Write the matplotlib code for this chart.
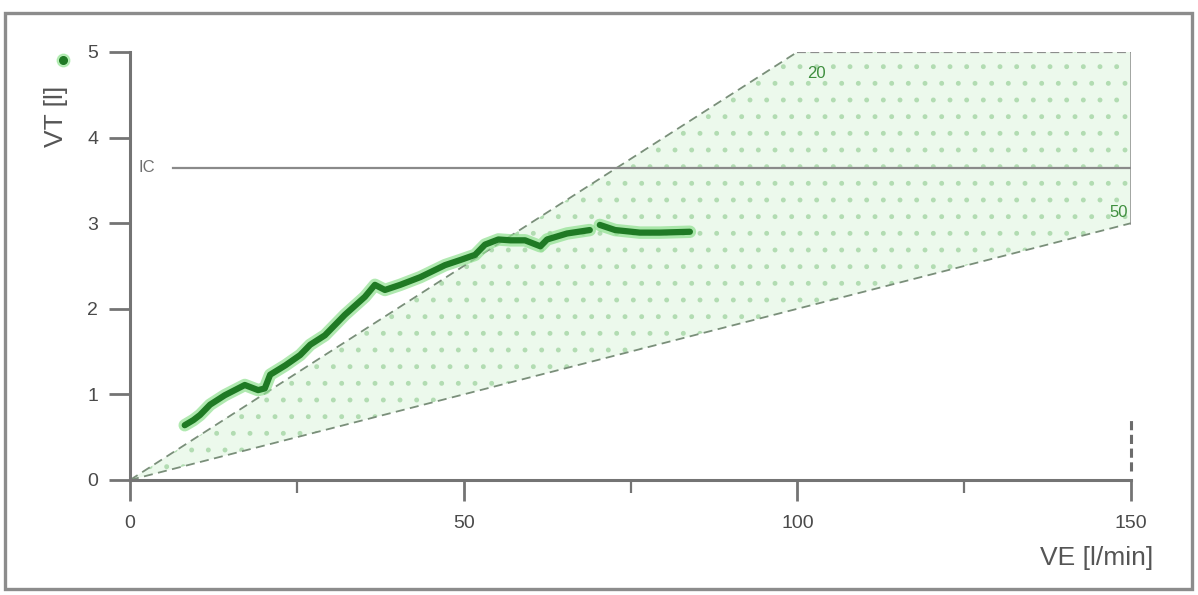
import matplotlib
matplotlib.use("Agg")
import matplotlib.pyplot as plt
from matplotlib.patches import Polygon, Rectangle

plt.rcParams['font.family'] = ['Liberation Sans', 'DejaVu Sans']
plt.rcParams['hatch.linewidth'] = 1.1

# Breath-by-breath tidal volume against minute ventilation
ve = [8.2, 9.5, 10.5, 12.0, 14.2, 17.2, 19.2, 20.2, 21.0, 23.3, 25.5, 27.0, 29.2,
      32.2, 35.2, 36.7, 38.2, 40.5, 43.5, 47.2, 49.5, 51.7, 53.2, 55.2, 57.0,
      59.2, 61.5, 62.5, 65.5, 68.9]
vt = [0.64, 0.70, 0.76, 0.88, 0.99, 1.11, 1.05, 1.07, 1.23, 1.34, 1.46, 1.58, 1.69,
      1.93, 2.14, 2.28, 2.22, 2.28, 2.37, 2.51, 2.57, 2.63, 2.75, 2.81, 2.80,
      2.80, 2.73, 2.81, 2.88, 2.92]
ve_b = [70.4, 72.7, 76.4, 79.4, 83.9]
vt_b = [2.98, 2.92, 2.89, 2.89, 2.90]

# Breathing-frequency reference lines (VT = VE / f) and inspiratory capacity
freq_labels = ['20', '50']
freq_values = [20, 50]
ic_value = 3.65
ve_max = 150
vt_max = 5

xticks = [0, 50, 100, 150]
xminor = [25, 75, 125]
yticks = [0, 1, 2, 3, 4, 5]

W, H = 1198, 595
fig = plt.figure(figsize=(W / 100, H / 100), dpi=100)
fig.patch.set_facecolor('white')
fig.patches.append(Rectangle((5 / W, 1 - 589 / H), 1187 / W, 576 / H,
                             transform=fig.transFigure, fill=False,
                             edgecolor='#8c8c8c', lw=2.4, zorder=0))

ax = fig.add_axes([130 / W, (H - 480) / H, (1131 - 130) / W, (480 - 52) / H])
ax.set_xlim(0, ve_max)
ax.set_ylim(0, vt_max)

gray = '#747474'
f_hi, f_lo = freq_values
# shaded zone between the two frequency lines, capped at VT max and VE max
x_hi_end = vt_max * f_hi
zone = [(0, 0), (x_hi_end, vt_max), (ve_max, vt_max), (ve_max, ve_max / f_lo)]
ax.add_patch(Polygon(zone, closed=True, facecolor='#ecf9ec', edgecolor='none', zorder=1))
ax.add_patch(Polygon(zone, closed=True, facecolor='none', edgecolor='#b2dcb2',
                     lw=0, hatch='.', zorder=1))

ax.plot([0, x_hi_end], [0, vt_max], ls=(0, (5, 3)), color='#7a8f7a', lw=1.3, zorder=2)
ax.plot([0, ve_max], [0, ve_max / f_lo], ls=(0, (5, 3)), color='#7a8f7a', lw=1.3, zorder=2)
ax.plot([x_hi_end, ve_max], [vt_max, vt_max], ls=(0, (4, 2)), color='#8c8c8c', lw=1.6, zorder=2)
ax.plot([ve_max, ve_max], [ve_max / f_lo, vt_max], color='#8c8c8c', lw=1.8, zorder=2)
ax.plot([ve_max, ve_max], [0.1, 0.75], ls=(0, (3, 1.5)), color='#6c6c6c', lw=2.2,
        zorder=2, clip_on=False)

ax.text(x_hi_end + 1.5, vt_max - 0.25, freq_labels[0], color='#3f8f3f', fontsize=12,
        ha='left', va='center', zorder=4)
ax.text(ve_max - 0.5, ve_max / f_lo + 0.12, freq_labels[1], color='#3f8f3f', fontsize=12,
        ha='right', va='center', zorder=4)

# inspiratory capacity
ax.plot([6.5, ve_max], [ic_value, ic_value], color='#8a8a8a', lw=1.6, zorder=2)
ax.text(1.2, ic_value, 'IC', color='#707070', fontsize=12, ha='left', va='center')

# measured data: soft halo under a darker trace
for xs, ys in [(ve, vt), (ve_b, vt_b)]:
    ax.plot(xs, ys, color='#8fe08f', lw=9, solid_capstyle='round', alpha=0.7, zorder=3)
    ax.plot(xs, ys, color='#1f7a24', lw=4.5, solid_capstyle='round',
            solid_joinstyle='round', zorder=4)

for side in ['top', 'right']:
    ax.spines[side].set_visible(False)
for side in ['left', 'bottom']:
    ax.spines[side].set_color(gray)
    ax.spines[side].set_linewidth(2.2)

ax.set_xticks(xticks)
ax.set_xticks(xminor, minor=True)
ax.set_yticks(yticks)
ax.tick_params(axis='both', which='major', direction='out', length=15, width=2,
               color=gray, labelcolor='#4a4a4a', labelsize=14)
ax.tick_params(axis='x', which='minor', direction='out', length=9, width=1.6, color=gray)
ax.tick_params(axis='x', which='major', pad=10)
ax.tick_params(axis='y', which='major', pad=8)
ax.set_xticklabels([str(t) for t in xticks])
ax.set_yticklabels([str(t) for t in yticks])

fig.text(1153 / W, 1 - 558 / H, 'VE [l/min]', fontsize=19, color='#555555',
         ha='right', va='center')
fig.text(56 / W, 1 - 116 / H, 'VT [l]', fontsize=19, color='#555555',
         ha='center', va='center', rotation=90)
fig.lines.append(plt.Line2D([63 / W], [1 - 60 / H], transform=fig.transFigure,
                            marker='o', markersize=9, color='#9fe89f', alpha=0.7))
fig.lines.append(plt.Line2D([63 / W], [1 - 60 / H], transform=fig.transFigure,
                            marker='o', markersize=5.5, color='#1f7a24'))

fig.savefig('out.png', dpi=100, facecolor='white')
